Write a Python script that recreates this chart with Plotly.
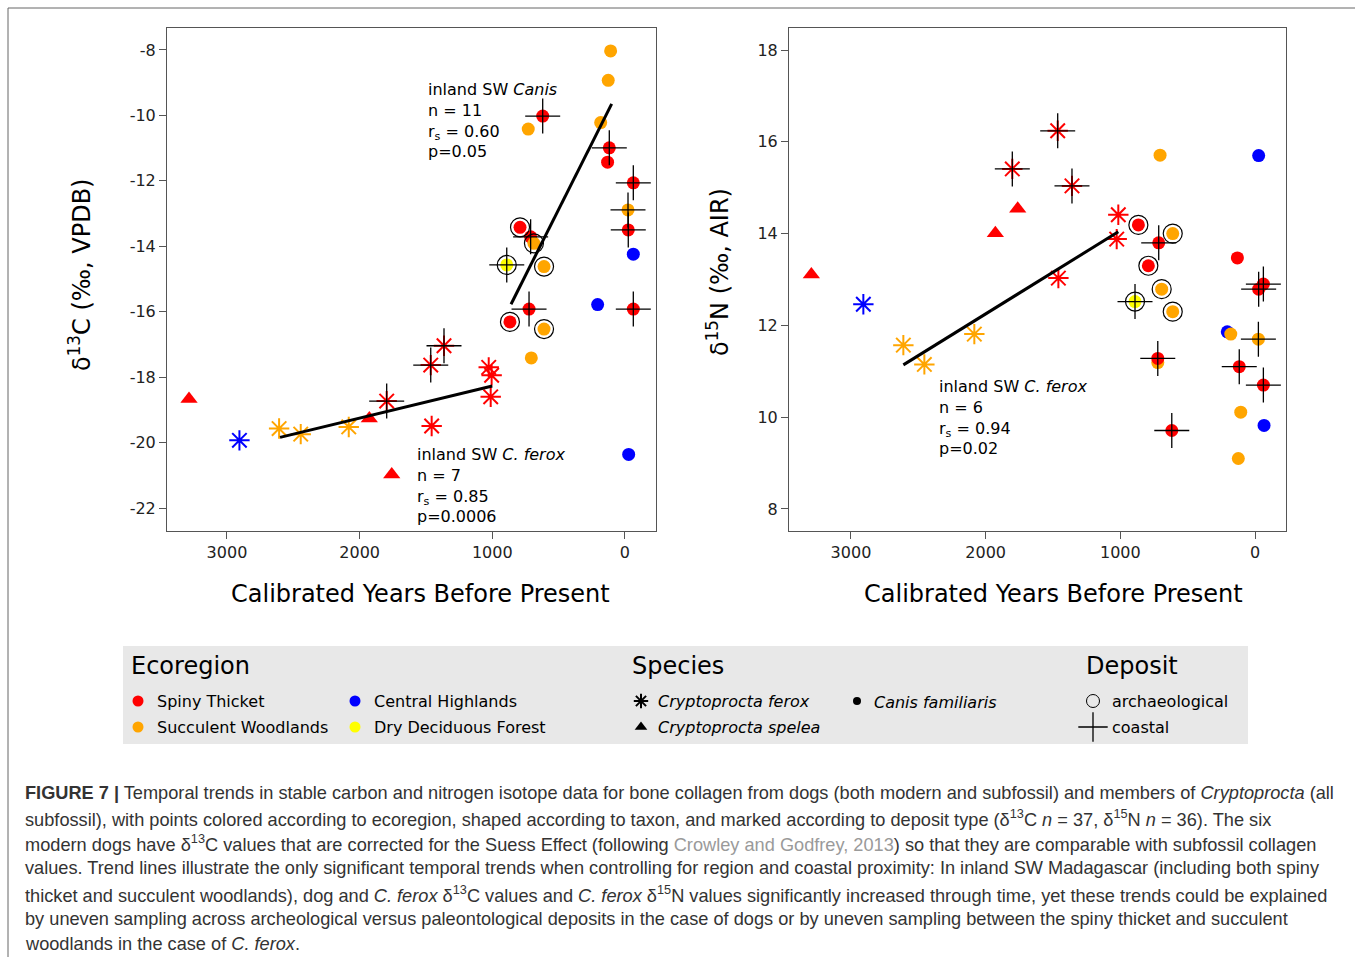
import plotly.graph_objects as go

W, H = 1355, 957

# ---------------- data: delta13C panel ----------------
c_years = [108, 126, 620, 729, 183, 118, 131, -63, -23, -25, -63, 791, 711, 686, 891, 610,
           723, 206, -63, 867, 610, 706, -28,
           1364, 1464, 1027, 1005, 1012, 1796, 1457, 2607, 2444, 2082, 2906,
           3286, 1927, 1758]
c_vals = [-8.03, -8.93, -10.02, -10.42, -10.22, -10.99, -11.43, -12.06, -12.89, -13.50, -14.24,
          -13.42, -13.71, -13.91, -14.57, -14.62, -15.92, -15.78, -15.92, -16.31, -16.53, -17.41, -20.36,
          -17.04, -17.63, -17.70, -17.94, -18.60, -18.73, -19.49, -19.57, -19.74, -19.52, -19.93,
          -18.67, -19.26, -20.97]
c_region = ["SW", "SW", "ST", "SW", "SW", "ST", "ST", "ST", "SW", "ST", "CH", "ST", "ST", "SW", "DDF", "SW",
            "ST", "CH", "ST", "ST", "SW", "SW", "CH",
            "ST", "ST", "ST", "ST", "ST", "ST", "ST", "SW", "SW", "SW", "CH",
            "ST", "ST", "ST"]
c_taxon = ["dog"] * 23 + ["ferox"] * 11 + ["spelea"] * 3
c_arch = [0, 0, 0, 0, 0, 0, 0, 0, 0, 0, 0, 1, 0, 1, 1, 1, 0, 0, 0, 1, 1, 0, 0,
          0, 0, 0, 0, 0, 0, 0, 0, 0, 0, 0, 0, 0, 0]
c_coast = [0, 0, 1, 0, 0, 1, 0, 1, 1, 1, 0, 0, 1, 0, 1, 0, 1, 0, 1, 0, 0, 0, 0,
           1, 1, 0, 0, 0, 1, 0, 0, 0, 0, 0, 0, 0, 0]

# ---------------- data: delta15N panel ----------------
n_years = [705, -27, 866, 611, 715, 131, 792, -62, -27, 891, 693, 611, 206, 180, -25, 722, 722,
           117, -62, 106, -67, 618, 124,
           1465, 1802, 1359, 1015, 1027, 1460, 2908, 2611, 2455, 2084,
           1762, 1928, 3294]
n_vals = [15.71, 15.70, 14.19, 14.00, 13.80, 13.47, 13.30, 12.90, 12.79, 12.52, 12.79, 12.30, 11.86,
          11.81, 11.70, 11.19, 11.28, 11.10, 10.70, 10.11, 9.82, 9.71, 9.10,
          16.24, 15.41, 15.04, 14.41, 13.88, 13.03, 12.46, 11.57, 11.15, 11.81,
          14.54, 14.01, 13.11]
n_region = ["SW", "CH", "ST", "SW", "ST", "ST", "ST", "ST", "ST", "DDF", "SW", "SW", "CH",
            "SW", "SW", "SW", "ST", "ST", "ST", "SW", "CH", "ST", "SW",
            "ST", "ST", "ST", "ST", "ST", "ST", "CH", "SW", "SW", "SW",
            "ST", "ST", "ST"]
n_taxon = ["dog"] * 23 + ["ferox"] * 10 + ["spelea"] * 3
n_arch = [0, 0, 1, 1, 0, 0, 1, 0, 0, 1, 1, 1, 0, 0, 0, 0, 0, 0, 0, 0, 0, 0, 0,
          0, 0, 0, 0, 0, 0, 0, 0, 0, 0, 0, 0, 0]
n_coast = [0, 0, 0, 0, 1, 0, 0, 1, 1, 1, 0, 0, 0, 0, 1, 0, 1, 1, 1, 0, 0, 1, 0,
           1, 1, 1, 0, 0, 0, 0, 0, 0, 0, 0, 0, 0]

# trend lines (fitted endpoints)
canis_c_years = [859, 100]
canis_c_vals = [-15.77, -9.65]
ferox_c_years = [2600, 1000]
ferox_c_vals = [-19.84, -18.27]
ferox_n_years = [2611, 1015]
ferox_n_vals = [11.14, 14.04]

c_ticks = [-8, -10, -12, -14, -16, -18, -20, -22]
n_ticks = [8, 10, 12, 14, 16, 18]
x_ticks = [3000, 2000, 1000, 0]

region_color = {"ST": "#ff0000", "SW": "#ffa500", "CH": "#0000ff", "DDF": "#ffff00"}
region_names = [("ST", "Spiny Thicket"), ("SW", "Succulent Woodlands"),
                ("CH", "Central Highlands"), ("DDF", "Dry Deciduous Forest")]

FONT = "DejaVu Sans"
fig = go.Figure()


def add_panel(years, vals, region, taxon, arch, coast, xa, ya):
    def sel(cond):
        idx = [i for i in range(len(years)) if cond(i)]
        return ([years[i] for i in idx], [vals[i] for i in idx],
                [region_color[region[i]] for i in idx])
    # dogs
    x, y, col = sel(lambda i: taxon[i] == "dog")
    fig.add_trace(go.Scatter(x=x, y=y, mode="markers", xaxis=xa, yaxis=ya, showlegend=False,
                             marker=dict(symbol="circle", size=13, color=col, line=dict(width=0))))
    # archaeological rings
    x, y, col = sel(lambda i: arch[i] == 1)
    fig.add_trace(go.Scatter(x=x, y=y, mode="markers", xaxis=xa, yaxis=ya, showlegend=False,
                             marker=dict(symbol="circle-open", size=19, color="black",
                                         line=dict(width=1.2, color="black"))))
    # C. spelea
    x, y, col = sel(lambda i: taxon[i] == "spelea")
    fig.add_trace(go.Scatter(x=x, y=y, mode="markers", xaxis=xa, yaxis=ya, showlegend=False,
                             marker=dict(symbol="triangle-up", size=15, color=col, line=dict(width=0))))
    # C. ferox
    x, y, col = sel(lambda i: taxon[i] == "ferox")
    fig.add_trace(go.Scatter(x=x, y=y, mode="markers", xaxis=xa, yaxis=ya, showlegend=False,
                             marker=dict(symbol="asterisk-open", size=17, color=col,
                                         line=dict(width=2, color=col))))
    # coastal crosses
    x, y, col = sel(lambda i: coast[i] == 1)
    fig.add_trace(go.Scatter(x=x, y=y, mode="markers", xaxis=xa, yaxis=ya, showlegend=False,
                             marker=dict(symbol="cross-thin-open", size=25, color="black",
                                         line=dict(width=1.3, color="black"))))


add_panel(c_years, c_vals, c_region, c_taxon, c_arch, c_coast, "x", "y")
add_panel(n_years, n_vals, n_region, n_taxon, n_arch, n_coast, "x2", "y2")

for xs, ys, xa, ya in [(canis_c_years, canis_c_vals, "x", "y"),
                       (ferox_c_years, ferox_c_vals, "x", "y"),
                       (ferox_n_years, ferox_n_vals, "x2", "y2")]:
    fig.add_trace(go.Scatter(x=xs, y=ys, mode="lines", xaxis=xa, yaxis=ya, showlegend=False,
                             line=dict(color="black", width=3)))

# ---------------- legend markers (overlay axis in pixel units) ----------------
leg_x = [138, 138, 355, 355]
leg_y = [701, 727, 701, 727]
fig.add_trace(go.Scatter(x=leg_x, y=leg_y, mode="markers", xaxis="x3", yaxis="y3", showlegend=False,
                         marker=dict(size=11, color=[region_color[k] for k, _ in region_names])))
fig.add_trace(go.Scatter(x=[641], y=[701], mode="markers", xaxis="x3", yaxis="y3", showlegend=False,
                         marker=dict(symbol="asterisk-open", size=12, color="black",
                                     line=dict(width=2, color="black"))))
fig.add_trace(go.Scatter(x=[641], y=[727], mode="markers", xaxis="x3", yaxis="y3", showlegend=False,
                         marker=dict(symbol="triangle-up", size=11, color="black")))
fig.add_trace(go.Scatter(x=[857], y=[701], mode="markers", xaxis="x3", yaxis="y3", showlegend=False,
                         marker=dict(symbol="circle", size=8, color="black")))
fig.add_trace(go.Scatter(x=[1093], y=[701], mode="markers", xaxis="x3", yaxis="y3", showlegend=False,
                         marker=dict(symbol="circle-open", size=13, color="black",
                                     line=dict(width=1, color="black"))))
fig.add_trace(go.Scatter(x=[1093], y=[727], mode="markers", xaxis="x3", yaxis="y3", showlegend=False,
                         marker=dict(symbol="cross-thin-open", size=21, color="black",
                                     line=dict(width=1.3, color="black"))))

axis_common = dict(showgrid=False, zeroline=False, showline=True, mirror=True, linecolor="#555",
                   linewidth=1, ticks="outside", ticklen=7, tickcolor="#555", tickwidth=1,
                   tickfont=dict(family=FONT, size=16, color="#222"))

fig.update_layout(
    width=W, height=H, margin=dict(l=0, r=0, t=0, b=0),
    paper_bgcolor="white", plot_bgcolor="rgba(0,0,0,0)",
    xaxis=dict(domain=[167 / W, 656 / W], range=[3452, -234], tickvals=x_ticks,
               ticktext=[str(v) for v in x_ticks], anchor="y", **axis_common),
    yaxis=dict(domain=[1 - 531 / H, 1 - 28 / H], range=[-22.70, -7.33], tickvals=c_ticks,
               ticktext=[str(v) for v in c_ticks], anchor="x", **axis_common),
    xaxis2=dict(domain=[789 / W, 1286 / W], range=[3460, -230], tickvals=x_ticks,
                ticktext=[str(v) for v in x_ticks], anchor="y2", **axis_common),
    yaxis2=dict(domain=[1 - 531 / H, 1 - 28 / H], range=[7.52, 18.48], tickvals=n_ticks,
                ticktext=[str(v) for v in n_ticks], anchor="x2", **axis_common),
    xaxis3=dict(domain=[0, 1], range=[0, W], visible=False, anchor="y3"),
    yaxis3=dict(domain=[0, 1], range=[H, 0], visible=False, anchor="x3"),
)

shapes = [
    dict(type="rect", xref="paper", yref="paper", x0=123 / W, x1=1248 / W, y0=1 - 744 / H, y1=1 - 646 / H,
         fillcolor="#e8e8e8", line=dict(width=0), layer="below"),
    dict(type="line", xref="paper", yref="paper", x0=8 / W, x1=1, y0=1 - 8 / H, y1=1 - 8 / H,
         line=dict(color="#666", width=1)),
    dict(type="line", xref="paper", yref="paper", x0=8 / W, x1=8 / W, y0=0, y1=1 - 8 / H,
         line=dict(color="#666", width=1)),
]
fig.update_layout(shapes=shapes)

ann = []


def txt(x, y, text, size, xanchor="left", yanchor="middle", angle=0, color="black", family=FONT):
    ann.append(dict(x=x / W, y=1 - y / H, xref="paper", yref="paper", text=text, showarrow=False,
                    xanchor=xanchor, yanchor=yanchor, textangle=angle, align="left",
                    font=dict(family=family, size=size, color=color)))


# axis titles
txt(420, 594, "Calibrated Years Before Present", 24, xanchor="center")
txt(1053, 594, "Calibrated Years Before Present", 24, xanchor="center")
txt(80, 275, "δ<sup>13</sup>C (‰, VPDB)", 24, xanchor="center", angle=-90)
txt(718, 272, "δ<sup>15</sup>N (‰, AIR)", 24, xanchor="center", angle=-90)

# stats annotations
txt(426, 78, "inland SW <i>Canis</i><br>n = 11<br>r<sub>s</sub> = 0.60<br>p=0.05", 16, yanchor="top")
txt(415, 443, "inland SW <i>C. ferox</i><br>n = 7<br>r<sub>s</sub> = 0.85<br>p=0.0006", 16, yanchor="top")
txt(937, 375, "inland SW <i>C. ferox</i><br>n = 6<br>r<sub>s</sub> = 0.94<br>p=0.02", 16, yanchor="top")

# legend text
txt(129, 666, "Ecoregion", 24)
txt(630, 666, "Species", 24)
txt(1084, 666, "Deposit", 24)
for (k, name), lx, ly in zip(region_names, leg_x, leg_y):
    txt(lx + 17, ly, name, 16)
txt(656, 701, "<i>Cryptoprocta ferox</i>", 16)
txt(656, 727, "<i>Cryptoprocta spelea</i>", 16)
txt(872, 702, "<i>Canis familiaris</i>", 16)
txt(1110, 701, "archaeological", 16)
txt(1110, 727, "coastal", 16)

# caption
cap_lines = [
    "<b>FIGURE 7 |</b> Temporal trends in stable carbon and nitrogen isotope data for bone collagen from dogs (both modern and subfossil) and members of <i>Cryptoprocta</i> (all",
    "subfossil), with points colored according to ecoregion, shaped according to taxon, and marked according to deposit type (δ<sup>13</sup>C <i>n</i> = 37, δ<sup>15</sup>N <i>n</i> = 36). The six",
    "modern dogs have δ<sup>13</sup>C values that are corrected for the Suess Effect (following <span style='color:#9a9a9a'>Crowley and Godfrey, 2013</span>) so that they are comparable with subfossil collagen",
    "values. Trend lines illustrate the only significant temporal trends when controlling for region and coastal proximity: In inland SW Madagascar (including both spiny",
    "thicket and succulent woodlands), dog and <i>C. ferox</i> δ<sup>13</sup>C values and <i>C. ferox</i> δ<sup>15</sup>N values significantly increased through time, yet these trends could be explained",
    "by uneven sampling across archeological versus paleontological deposits in the case of dogs or by uneven sampling between the spiny thicket and succulent",
    "woodlands in the case of <i>C. ferox</i>.",
]
cap_y = [793, 818, 843, 868, 894, 919, 944]
for line, cy in zip(cap_lines, cap_y):
    txt(23, cy, line, 18.2, color="#333", family="Liberation Sans")

fig.update_layout(annotations=ann)
fig.write_html("out.html")
